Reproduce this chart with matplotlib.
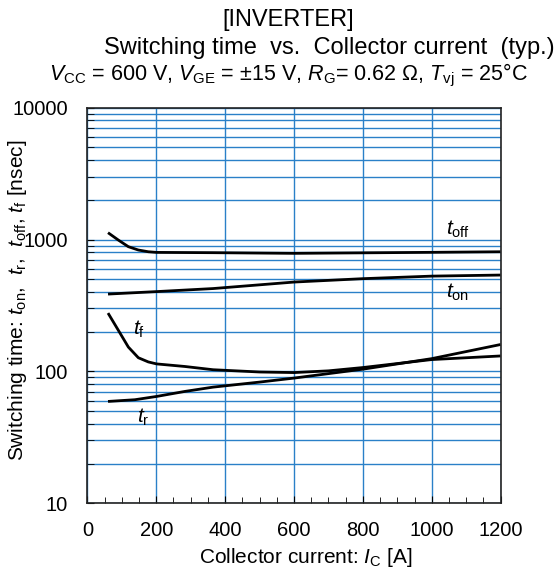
import numpy as np
import matplotlib
matplotlib.use("Agg")
import matplotlib.pyplot as plt
from matplotlib.ticker import FixedLocator, NullFormatter, MultipleLocator

plt.rcParams['font.family'] = ['Liberation Sans', 'DejaVu Sans']
plt.rcParams['mathtext.fontset'] = 'custom'
plt.rcParams['mathtext.rm'] = 'Liberation Sans'
plt.rcParams['mathtext.it'] = 'Liberation Sans:italic'

# Data (collector current in A, switching time in ns)
ic_off = [60, 90, 119, 148, 177, 201, 283, 365, 600, 800, 1000, 1200]
t_off = [1127, 991, 883, 833, 808, 799, 797, 795, 786, 793, 800, 808]

ic_on = [60, 201, 365, 600, 800, 1000, 1200]
t_on = [386, 403, 425, 476, 505, 528, 538]

ic_f = [60, 90, 119, 148, 177, 201, 283, 365, 500, 600, 700, 800, 1000, 1200]
t_f = [277, 205, 153, 127, 118, 114, 109, 103, 99, 98, 101, 107, 123, 131]

ic_r = [60, 138, 201, 283, 365, 500, 600, 800, 1000, 1200]
t_r = [59.2, 61, 64.6, 70.5, 76, 83, 89, 104, 125, 160]

xticks = [0, 200, 400, 600, 800, 1000, 1200]
yticks = [10, 100, 1000, 10000]

W, H = 560, 574
fig = plt.figure(figsize=(W / 100, H / 100), dpi=100)
ax = fig.add_axes([0.156, 0.1232, 0.738, 0.6892])

ax.set_yscale('log')
ax.set_xlim(0, 1200)
ax.set_ylim(10, 10000)

grid_c = '#2a80c8'
ax.xaxis.set_major_locator(FixedLocator(xticks))
ax.xaxis.set_minor_locator(MultipleLocator(50))
ax.set_yticks(yticks)
ax.set_yticklabels([str(v) for v in yticks])
minors = [m * 10 ** e for e in range(1, 4) for m in range(2, 10)]
ax.yaxis.set_minor_locator(FixedLocator(minors))
ax.yaxis.set_minor_formatter(NullFormatter())
ax.grid(True, which='major', axis='x', color=grid_c, lw=1.0)
ax.grid(True, which='both', axis='y', color=grid_c, lw=1.0)
ax.tick_params(axis='both', which='both', direction='in', labelsize=14.5, color='black')
ax.tick_params(axis='x', which='major', length=5, pad=13)
ax.tick_params(axis='x', which='minor', length=4)
ax.tick_params(axis='y', which='major', length=5, pad=14)
ax.tick_params(axis='y', which='minor', length=5)
for s in ax.spines.values():
    s.set_color('#222222')
    s.set_linewidth(1.2)
ax.set_axisbelow(True)

lk = dict(color='black', lw=2.0, solid_capstyle='butt', solid_joinstyle='round')
ax.plot(ic_off, t_off, **lk)
ax.plot(ic_on, t_on, **lk)
ax.plot(ic_f, t_f, **lk)
ax.plot(ic_r, t_r, **lk)

fs = 15
ax.text(1040, 1000, r'$t_{\mathrm{off}}$', fontsize=fs, ha='left', va='bottom')
ax.text(1040, 400, r'$t_{\mathrm{on}}$', fontsize=fs, ha='left', va='center')
ax.text(132, 210, r'$t_{\mathrm{f}}$', fontsize=fs, ha='left', va='center')
ax.text(145, 45, r'$t_{\mathrm{r}}$', fontsize=fs, ha='left', va='center')

ax.set_xlabel(r'Collector current: $I_{\mathrm{C}}$ [A]', fontsize=fs)
ax.xaxis.set_label_coords((305.5 - 87.3) / 413.4, -(563 - 503.3) / 395.6)
ax.xaxis.label.set_va('baseline')
ax.set_ylabel(r'Switching time: $t_{\mathrm{on}}$,  $t_{\mathrm{r}}$,  $t_{\mathrm{off}}$, $t_{\mathrm{f}}$ [nsec]',
              fontsize=fs)
ax.yaxis.set_label_coords(-(87.3 - 17) / 413.4, (503.3 - 300) / 395.6)
ax.yaxis.label.set_va('center')

fig.text(288 / W, 1 - 26 / H, '[INVERTER]', fontsize=17, ha='center', va='baseline')
fig.text(329 / W, 1 - 54 / H, 'Switching time  vs.  Collector current  (typ.)', fontsize=17,
         ha='center', va='baseline')
fig.text(288 / W, 1 - 80 / H,
         r'$V_{\mathrm{CC}}$ = 600 V, $V_{\mathrm{GE}}$ = ±15 V, $R_{\mathrm{G}}$= 0.62 Ω, $T_{\mathrm{vj}}$ = 25°C',
         fontsize=15.5, ha='center', va='baseline')

fig.savefig('out.png', dpi=100)
